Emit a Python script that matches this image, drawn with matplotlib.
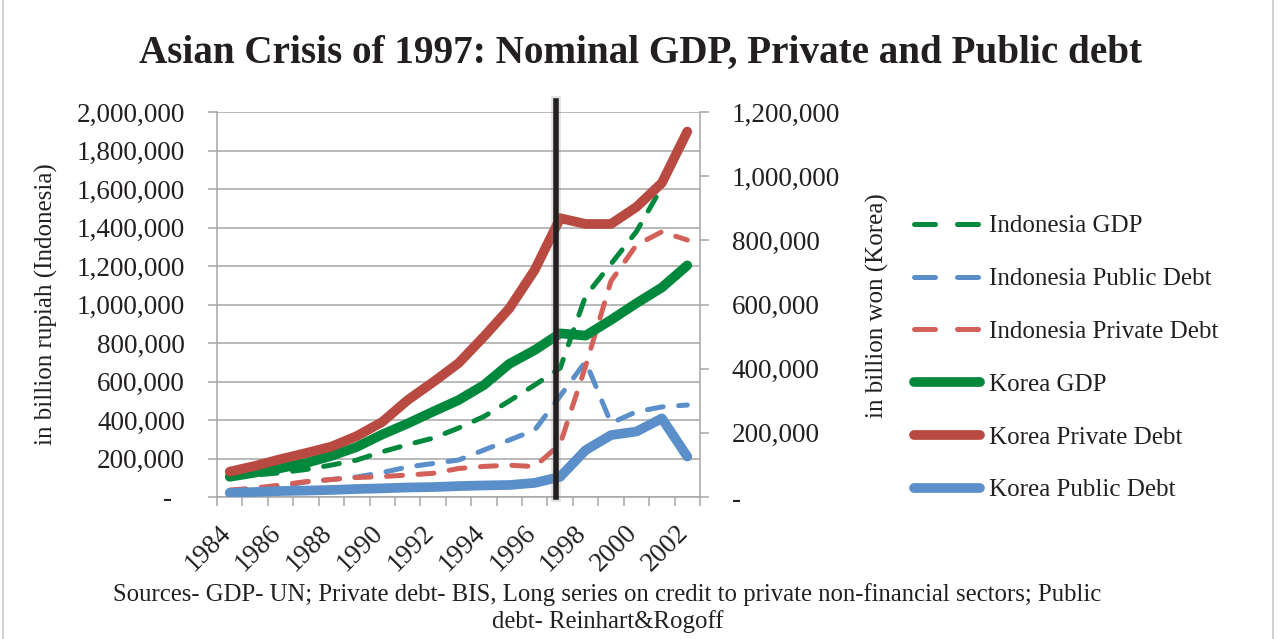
import matplotlib
matplotlib.use("Agg")
import matplotlib.pyplot as plt
import matplotlib.transforms as mtransforms
import numpy as np
from matplotlib.lines import Line2D
from matplotlib.ticker import FuncFormatter

# Data
years = list(range(1984, 2003))
label_years = list(range(1984, 2003, 2))

# left axis, billion rupiah
indo_gdp = [109000, 114000, 126000, 143000, 166000, 192000, 235000, 272000, 306000, 358000,
            418000, 499000, 582000, 670000, 1044000, 1211000, 1379000, 1610000, np.nan]
indo_public = [31000, 42000, 57000, 78000, 91000, 104000, 127000, 156000, 174000, 192000,
               244000, 296000, 348000, 525000, 704000, 384000, 443000, 468000, 478000]
indo_private = [36000, 47000, 62000, 80000, 91000, 101000, 106000, 114000, 123000, 148000,
                159000, 165000, 158000, 275000, 680000, 1122000, 1309000, 1378000, 1335000]

# right axis, billion won
korea_gdp = [63000, 76000, 90000, 106000, 128000, 156000, 195000, 229000, 266000, 302000,
             349000, 415000, 458000, 510000, 503000, 552000, 604000, 653000, 722000]
korea_private = [79000, 97000, 118000, 137000, 157000, 190000, 234000, 302000, 358000, 417000,
                 500000, 588000, 708000, 869000, 851000, 851000, 904000, 979000, 1139000]
korea_public = [13000, 15600, 18700, 20000, 22000, 25000, 27000, 29600, 31000, 34000,
                36000, 37400, 44000, 63000, 146000, 193000, 204000, 245000, 126000]

crisis_x = 1996.85

# Styles
GREEN = "#00883c"
RED = "#b84a42"
RED_LIGHT = "#d4605a"
BLUE = "#5a8fca"
GRID = "#a6a6a6"
TEXT = "#231f20"
FONT = "Liberation Serif"
DASH = (0, (3.2, 3.1))
LW_DASH = 3.6
LW_SOLID = 7.0

plt.rcParams["font.family"] = [FONT, "DejaVu Serif"]

W, H = 1277, 639
fig = plt.figure(figsize=(W / 100, H / 100), dpi=100)
ax = fig.add_axes([217 / W, 1 - 497 / H, (700 - 217) / W, (497 - 112) / H])
ax2 = ax.twinx()

dash_kw = dict(lw=LW_DASH, ls=DASH, dash_capstyle="round", dash_joinstyle="round")
solid_kw = dict(lw=LW_SOLID, solid_capstyle="round", solid_joinstyle="round")

ax.plot(years, indo_gdp, color=GREEN, **dash_kw)
ax.plot(years, indo_public, color=BLUE, **dash_kw)
ax.plot(years, indo_private, color=RED_LIGHT, **dash_kw)

ax2.plot(years, korea_gdp, color=GREEN, **solid_kw)
ax2.plot(years, korea_private, color=RED, **solid_kw)
ax2.plot(years, korea_public, color=BLUE, **solid_kw)

# crisis marker
ax2.axvline(crisis_x, ymin=0, ymax=1.028, color="#888888", lw=7, alpha=0.25, clip_on=False, zorder=9)
ax2.axvline(crisis_x, ymin=0, ymax=1.028, color=TEXT, lw=4, clip_on=False, zorder=10)

# Axes setup
ax.set_xlim(1983.5, 2002.5)
ax.set_ylim(0, 2000000)
ax2.set_ylim(0, 1200000)
ax.set_yticks(np.arange(0, 2000001, 200000))
ax2.set_yticks(np.arange(0, 1200001, 200000))


def fmt_left(v, _):
    return "-  " if v == 0 else f"{v:,.0f}"


def fmt_right(v, _):
    return "-" if v == 0 else f"{v:,.0f}"


ax.yaxis.set_major_formatter(FuncFormatter(fmt_left))
ax2.yaxis.set_major_formatter(FuncFormatter(fmt_right))

ax.set_xticks(label_years)
ax.set_xticklabels([str(y) for y in label_years], rotation=45, ha="right", va="center",
                   rotation_mode="anchor")
ax.set_xticks(np.arange(1983.5, 2003, 1.0), minor=True)
ax.tick_params(axis="x", which="major", length=0, pad=23, labelsize=19.5, labelcolor=TEXT)
ax.tick_params(axis="x", which="minor", length=6.5, width=1.1, color=GRID)
ax.tick_params(axis="y", length=6.5, width=1.1, color=GRID, pad=16.5, labelsize=19.5,
               labelcolor=TEXT)
ax2.tick_params(axis="y", length=6.5, width=1.1, color=GRID, pad=16.5, labelsize=19.5,
                labelcolor=TEXT)
shift = mtransforms.ScaledTranslation(-3 / 100, 0, fig.dpi_scale_trans)
for lbl in ax.get_xticklabels():
    lbl.set_transform(lbl.get_transform() + shift)

ax.grid(True, axis="y", color=GRID, lw=1.1)
ax.set_axisbelow(True)
for a in (ax, ax2):
    a.spines["top"].set_visible(False)
    for s in ("left", "right", "bottom"):
        a.spines[s].set_color(GRID)
        a.spines[s].set_linewidth(1.1)
ax2.spines["left"].set_visible(False)
ax2.spines["bottom"].set_visible(False)
ax.spines["right"].set_visible(False)

# Axis titles
fig.text(46.7 / W, 1 - 304 / H, "in billion rupiah (Indonesia)", rotation=90,
         ha="center", va="center", fontsize=18, color=TEXT)
fig.text(877 / W, 1 - 306 / H, "in billion won (Korea)", rotation=90,
         ha="center", va="center", fontsize=18, color=TEXT)

fig.text(640.5 / W, 1 - 53 / H, "Asian Crisis of 1997: Nominal GDP, Private and Public debt",
         ha="center", va="center", fontsize=28.2, fontweight="bold", color=TEXT)

fig.text(607.5 / W, 1 - 608 / H,
         "Sources- GDP- UN; Private debt- BIS, Long series on credit to private non-financial sectors; Public\n"
         "debt- Reinhart&Rogoff",
         ha="center", va="center", fontsize=17.8, color=TEXT, linespacing=1.2)

# Legend
names = ["Indonesia GDP", "Indonesia Public Debt", "Indonesia Private Debt",
         "Korea GDP", "Korea Private Debt", "Korea Public Debt"]
colors = [GREEN, BLUE, RED_LIGHT, GREEN, RED, BLUE]
handles = []
for i, c in enumerate(colors):
    if i < 3:
        handles.append(Line2D([], [], color=c, lw=LW_DASH, ls=(0, (4.2, 4.4)),
                              dash_capstyle="round"))
    else:
        handles.append(Line2D([], [], color=c, lw=LW_SOLID, solid_capstyle="round"))
fig.legend(handles, names, loc="upper left", bbox_to_anchor=(914 / W, 1 - 215 / H),
           frameon=False, prop={"family": FONT, "size": 18}, handlelength=2.64,
           handletextpad=0.35, labelspacing=1.21, borderpad=0, borderaxespad=0,
           labelcolor=TEXT)

# chart area border
fig.add_artist(Line2D([3 / W, 3 / W], [0, 1], color="#c8c8c8", lw=1.2))
fig.add_artist(Line2D([1273 / W, 1273 / W], [0, 1], color="#c8c8c8", lw=1.2))

fig.savefig("out.png", dpi=100)
